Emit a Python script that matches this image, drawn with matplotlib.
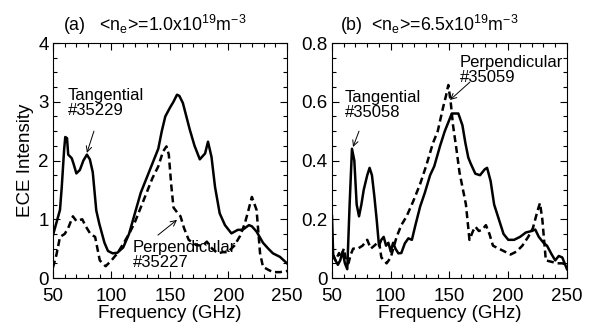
import matplotlib.pyplot as plt
from matplotlib.ticker import MultipleLocator

plt.rcParams["font.family"] = ["Liberation Sans", "DejaVu Sans"]
plt.rcParams["mathtext.fontset"] = "custom"
plt.rcParams["mathtext.rm"] = "Liberation Sans"
plt.rcParams["mathtext.it"] = "Liberation Sans"

# panel (a): <ne>=1.0e19
a_tan_f = [50, 56, 57.5, 59.5, 60.5, 62, 63, 66, 67.5, 70, 73, 76, 79, 81.5, 84, 87, 89.5, 94,
           97, 101, 105, 110, 115, 120, 125, 130, 135, 140, 143, 146, 150, 153, 156, 158,
           161, 164, 167, 171, 175.5, 180, 182.5, 185.5, 188.5, 192.5, 197, 202.5, 208,
           212, 217.5, 220, 224, 229.5, 234, 238, 244, 250]
a_tan_v = [0.73, 1.16, 1.55, 2.18, 2.40, 2.38, 2.1, 2.04, 1.95, 1.78, 1.84, 2.0, 2.1, 2.02,
           1.8, 1.15, 0.93, 0.6, 0.46, 0.42, 0.43, 0.52, 0.75, 1.1, 1.45, 1.7, 1.95, 2.2,
           2.5, 2.75, 2.9, 3.0, 3.12, 3.1, 2.98, 2.75, 2.52, 2.25, 2.02, 2.12, 2.32, 2.06,
           1.55, 1.1, 0.9, 0.76, 0.82, 0.82, 0.9, 0.88, 0.79, 0.6, 0.5, 0.42, 0.36, 0.25]
a_per_f = [50, 53, 56, 60, 63, 67, 70, 75, 78, 82, 86, 90, 95, 100, 105, 110, 115, 120, 125,
           130, 135, 140, 144, 147, 149, 151, 153, 156, 159, 162, 166, 172.5, 178, 181.5,
           186, 191, 195, 199.5, 205, 210, 214, 217, 220, 224, 227, 229.5, 234, 238, 244, 250]
a_per_v = [0.18, 0.4, 0.7, 0.75, 0.85, 1.05, 0.97, 1.0, 0.88, 0.75, 0.7, 0.3, 0.2, 0.3, 0.42,
           0.58, 0.75, 0.95, 1.2, 1.45, 1.7, 1.9, 2.15, 2.24, 2.1, 1.6, 1.2, 1.12, 1.05,
           0.85, 0.65, 0.56, 0.55, 0.62, 0.5, 0.42, 0.44, 0.44, 0.55, 0.72, 0.93, 1.15, 1.38,
           1.16, 0.42, 0.19, 0.14, 0.1, 0.1, 0.12]

# panel (b): <ne>=6.5e19
b_tan_f = [50, 51, 53, 55, 57, 59, 61, 63, 65, 67, 69, 71, 73, 75, 77, 80, 82, 84, 86, 88, 90,
           92, 94, 96, 98, 100, 102, 104, 106.5, 109, 112, 115, 118, 121, 125, 129, 133.5,
           137, 142, 146, 150, 152, 157.5, 161, 163.5, 166, 168, 172, 176, 180, 182, 185,
           188, 192, 196, 200, 205, 210, 215, 220, 223, 226, 230, 233, 237, 240, 243, 246, 250]
b_tan_v = [0.21, 0.08, 0.06, 0.045, 0.06, 0.09, 0.05, 0.03, 0.25, 0.44, 0.4, 0.25, 0.21,
           0.25, 0.3, 0.35, 0.375, 0.35, 0.28, 0.2, 0.11, 0.13, 0.14, 0.11, 0.12, 0.09, 0.12,
           0.1, 0.084, 0.085, 0.118, 0.135, 0.13, 0.18, 0.243, 0.29, 0.35, 0.38, 0.45, 0.5,
           0.54, 0.56, 0.56, 0.52, 0.46, 0.41, 0.39, 0.355, 0.35, 0.37, 0.375, 0.33, 0.25,
           0.2, 0.15, 0.13, 0.13, 0.14, 0.155, 0.16, 0.165, 0.14, 0.12, 0.11, 0.08, 0.06,
           0.075, 0.07, 0.03]
b_per_f = [50, 53, 56, 58, 60, 62, 64, 66, 68, 72, 76, 80, 83, 86, 90, 92, 96.5, 100, 105,
           109, 113.5, 119, 125, 130, 136, 140, 144.5, 147, 149, 151, 153, 156, 158.5, 161.5,
           164, 167, 170, 172, 175, 178, 181, 184, 187, 192, 197, 202, 207, 212, 217, 221,
           225, 227, 229, 232, 237, 242, 246, 250]
b_per_v = [0.08, 0.06, 0.085, 0.07, 0.1, 0.06, 0.05, 0.08, 0.1, 0.1, 0.11, 0.13, 0.1, 0.11,
           0.125, 0.07, 0.05, 0.07, 0.14, 0.18, 0.21, 0.26, 0.32, 0.38, 0.46, 0.5, 0.58,
           0.62, 0.657, 0.6, 0.52, 0.436, 0.36, 0.3, 0.25, 0.13, 0.16, 0.175, 0.16, 0.165,
           0.18, 0.15, 0.11, 0.1, 0.09, 0.08, 0.09, 0.11, 0.14, 0.17, 0.23, 0.255, 0.2, 0.06,
           0.055, 0.05, 0.05, 0.045]

TICK_FS = 13.5
ANN_FS = 12
TITLE_FS = 12.8

fig = plt.figure(figsize=(5.9, 3.28), dpi=100)
ax_a = fig.add_axes([0.0898, 0.1524, 0.3966, 0.7165])
ax_b = fig.add_axes([0.5627, 0.1524, 0.3983, 0.7165])


def style_axes(ax, ymax, ymajor, yminor):
    ax.set_xlim(50, 250)
    ax.set_ylim(0, ymax)
    ax.xaxis.set_major_locator(MultipleLocator(50))
    ax.xaxis.set_minor_locator(MultipleLocator(10))
    ax.yaxis.set_major_locator(MultipleLocator(ymajor))
    ax.yaxis.set_minor_locator(MultipleLocator(yminor))
    ax.tick_params(which="both", direction="in", top=True, right=True, labelsize=TICK_FS)
    ax.tick_params(axis="x", pad=7)
    ax.tick_params(axis="y", pad=3)
    ax.tick_params(which="major", length=5, width=0.8)
    ax.tick_params(which="minor", length=3, width=0.8)
    ax.set_xlabel("Frequency (GHz)", fontsize=TICK_FS, labelpad=0)


arrow = dict(arrowstyle="->", color="black", lw=0.7, shrinkA=0, shrinkB=0)

# (a)
ax_a.plot(a_tan_f, a_tan_v, color="black", lw=1.8)
ax_a.plot(a_per_f, a_per_v, color="black", lw=1.8, linestyle=(0, (2.8, 1.6)))
style_axes(ax_a, 4, 1, 0.25)
ax_a.set_ylabel("ECE Intensity", fontsize=TICK_FS, labelpad=3)
ax_a.yaxis.set_major_formatter(plt.FuncFormatter(lambda v, p: f"{v:.0f}"))
ax_a.text(62.8, 3.23, "Tangential\n#35229", fontsize=ANN_FS, ha="left", va="top", linespacing=1.0)
ax_a.annotate("", xy=(79, 2.13), xytext=(85, 2.5), arrowprops=arrow)
ax_a.text(118.4, 0.65, "Perpendicular\n#35227", fontsize=ANN_FS, ha="left", va="top", linespacing=1.0)
ax_a.annotate("", xy=(156, 0.99), xytext=(139.7, 0.73), arrowprops=arrow)
ax_a.text(0.043, 1.05, r"(a)   <n$_\mathrm{e}$>=1.0x10$^{19}$m$^{-3}$", transform=ax_a.transAxes,
          fontsize=TITLE_FS, ha="left", va="baseline")

# (b)
ax_b.plot(b_tan_f, b_tan_v, color="black", lw=1.8)
ax_b.plot(b_per_f, b_per_v, color="black", lw=1.8, linestyle=(0, (2.8, 1.6)))
style_axes(ax_b, 0.8, 0.2, 0.05)
ax_b.yaxis.set_major_formatter(plt.FuncFormatter(lambda v, p: "0" if v == 0 else f"{v:.1f}"))
ax_b.text(61, 0.64, "Tangential\n#35058", fontsize=ANN_FS, ha="left", va="top", linespacing=1.0)
ax_b.annotate("", xy=(67.9, 0.446), xytext=(73, 0.50), arrowprops=arrow)
ax_b.text(159, 0.759, "Perpendicular\n#35059", fontsize=ANN_FS, ha="left", va="top", linespacing=1.0)
ax_b.annotate("", xy=(150.4, 0.606), xytext=(167.4, 0.667), arrowprops=arrow)
ax_b.text(0.034, 1.05, r"(b)  <n$_\mathrm{e}$>=6.5x10$^{19}$m$^{-3}$", transform=ax_b.transAxes,
          fontsize=TITLE_FS, ha="left", va="baseline")

fig.savefig("out.png", dpi=100)
